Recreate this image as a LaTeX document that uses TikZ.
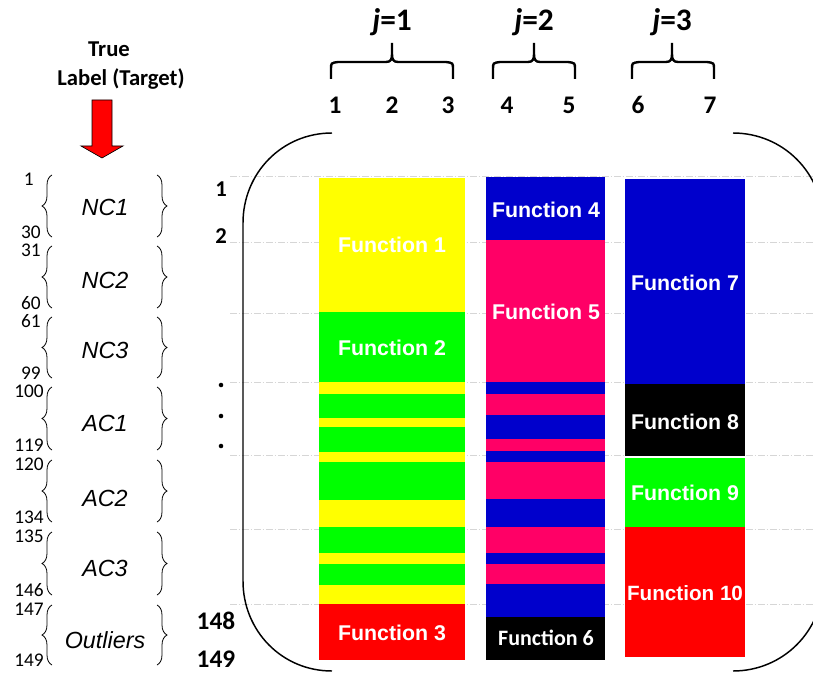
\documentclass[tikz,border=0pt]{standalone}
\usepackage{fontspec}
\setmainfont{Liberation Sans}
\newfontfamily\calibri{Carlito}
\usetikzlibrary{decorations.pathreplacing}

\definecolor{fyellow}{HTML}{FFFF00}
\definecolor{fgreen}{HTML}{00FF00}
\definecolor{fpink}{HTML}{FF0066}
\definecolor{fblue}{HTML}{0000CC}
\definecolor{fred}{HTML}{FF0000}
\definecolor{gridgray}{HTML}{D6D6D6}

\tikzset{
  gridline/.style={gridgray, line width=0.6pt, dash pattern=on 5pt off 1.5pt on 1pt off 1.5pt},
  funclabel/.style={text=white, inner sep=0pt, font=\bfseries\fontsize{16}{18}\selectfont},
  classlabel/.style={inner sep=0pt, font=\itshape\fontsize{17.5}{19}\selectfont},
  boundnum/.style={inner sep=0pt, anchor=east, font=\calibri\fontsize{14.5}{15}\selectfont},
  colnum/.style={inner sep=0pt, font=\calibri\bfseries\fontsize{19}{20}\selectfont},
  jlabel/.style={inner sep=0pt, font=\calibri\bfseries\fontsize{23.5}{25}\selectfont},
  headlabel/.style={inner sep=0pt, font=\calibri\bfseries\fontsize{17}{19}\selectfont},
  lbrace/.style={decorate, decoration={brace, amplitude=7.5pt}, line width=0.6pt},
  topbrace/.style={line width=1.8pt},
  bigbracket/.style={line width=1.1pt}
}

\begin{document}
\begin{tikzpicture}[x=0.75pt, y=-0.75pt]
  \useasboundingbox (0,0) rectangle (813,677);
  \clip (0,0) rectangle (813,677);

  % light guide lines
  \foreach \y in {176,242,313,382,455,529,604}
    \draw[gridline] (230,\y) -- (813,\y);

  % target arrow and its label
  \node[headlabel] (truetop) at (109,49) {True};
  \node[headlabel] (truebot) at (121,79) {Label (Target)};
  \draw[fill=fred, line width=0.5pt] (92,100) -- (112,100) -- (112,146) -- (123,146)
    -- (102,158) -- (81,146) -- (92,146) -- cycle;

  % class ranges on the left
  \foreach \yt/\yb/\ym/\name/\lo/\hi/\xlo/\xhi in {
      175/237/207/NC1/1/30/34/41,
      246/308/280/NC2/31/60/41/41,
      317/378/350/NC3/61/99/41/41,
      387/450/423/AC1/100/119/44/44,
      460/522/498/AC2/120/134/44/44,
      532/595/568/AC3/135/146/44/44,
      605/665/640/Outliers/147/149/44/44} {
    \draw[lbrace] (52,\yb) -- (52,\yt);
    \draw[lbrace] (157,\yt) -- (157,\yb);
    \node[classlabel] (\name) at (105,\ym) {\name};
    \node[boundnum] (lo\name) at (\xlo,\yt+4) {\lo};
    \node[boundnum] (hi\name) at (\xhi,\yb-5) {\hi};
  }

  % row numbers
  \node[colnum, font=\calibri\bfseries\fontsize{17}{18}\selectfont] (row1) at (221,189) {1};
  \node[colnum, font=\calibri\bfseries\fontsize{17}{18}\selectfont] (row2) at (221,236) {2};
  \node[colnum] (row148) at (216,621) {148};
  \node[colnum] (row149) at (216,659) {149};
  \foreach \y in {385,416,446}
    \fill (221,\y) circle [radius=1.7pt];

  % groups j on top
  \foreach \xl/\xm/\xr/\j in {331/392/453/1, 493/534/575/2, 632/672/714/3} {
    \draw[topbrace] (\xl,79) -- (\xl,69) .. controls (\xl,63) .. (\xl+7,62) -- (\xm-6,62)
      .. controls (\xm-1,62) and (\xm,59) .. (\xm,54) -- (\xm,43)
      (\xm,54) .. controls (\xm,59) and (\xm+1,62) .. (\xm+6,62) -- (\xr-7,62)
      .. controls (\xr,63) .. (\xr,69) -- (\xr,79);
    \node[jlabel] (j\j) at (\xm,22) {\textit{j}=\j};
  }
  \foreach \x/\n in {335/1, 392/2, 448/3, 507/4, 569/5, 638/6, 710/7}
    \node[colnum] (col\n) at (\x,105) {\n};

  % big bracket
  \draw[bigbracket] (332,133) .. controls (282,133) and (243,173) .. (243,223) -- (243,581)
    .. controls (243,631) and (282,671) .. (332,671);
  \draw[bigbracket] (733,133) .. controls (783,133) and (823,173) .. (823,223) -- (823,581)
    .. controls (823,631) and (783,671) .. (733,671);

  % column j=1
  \foreach \ya/\yb/\c in {178/312/fyellow, 312/382/fgreen, 382/394/fyellow, 394/418/fgreen,
      418/427/fyellow, 427/452/fgreen, 452/462/fyellow, 462/500/fgreen, 500/527/fyellow,
      527/553/fgreen, 553/564/fyellow, 564/585/fgreen, 585/604/fyellow, 604/660/fred}
    \fill[\c] (319,\ya) rectangle (465,\yb);
  % column j=2
  \foreach \ya/\yb/\c in {177/240/fblue, 240/382/fpink, 382/394/fblue, 394/415/fpink,
      415/439/fblue, 439/451/fpink, 451/462/fblue, 462/499/fpink, 499/527/fblue,
      527/553/fpink, 553/564/fblue, 564/584/fpink, 584/617/fblue, 617/660/black}
    \fill[\c] (486,\ya) rectangle (605,\yb);
  % column j=3
  \foreach \ya/\yb/\c in {179/384/fblue, 384/456/black, 458/527/fgreen, 527/657/fred}
    \fill[\c] (625,\ya) rectangle (745,\yb);

  \node[funclabel] (fn1) at (392,245) {Function 1};
  \node[funclabel] (fn2) at (392,348) {Function 2};
  \node[funclabel] (fn3) at (392,633) {Function 3};
  \node[funclabel] (fn4) at (546,210) {Function 4};
  \node[funclabel] (fn5) at (546,312) {Function 5};
  \node[funclabel, font=\calibri\bfseries\fontsize{16.5}{18}\selectfont] (fn6) at (546,638) {Function 6};
  \node[funclabel] (fn7) at (685,283) {Function 7};
  \node[funclabel] (fn8) at (685,422) {Function 8};
  \node[funclabel] (fn9) at (685,493) {Function 9};
  \node[funclabel, font=\bfseries\fontsize{15.5}{17}\selectfont] (fn10) at (685,593) {Function 10};
\end{tikzpicture}
\end{document}
